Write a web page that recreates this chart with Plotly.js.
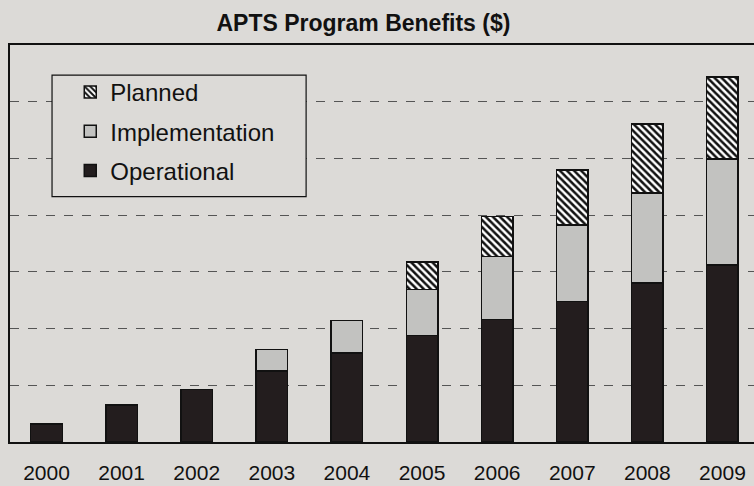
<!DOCTYPE html>
<html>
<head>
<meta charset="utf-8">
<script src="https://cdn.plot.ly/plotly-3.0.1.min.js"></script>
<style>html,body{margin:0;padding:0;background:#dcdad7;}#chart{width:754px;height:486px;}</style>
</head>
<body>
<div id="chart"></div>
<script>
const years = ["2000","2001","2002","2003","2004","2005","2006","2007","2008","2009"];
const operational    = [0.32, 0.65, 0.93, 1.25, 1.57, 1.88, 2.16, 2.48, 2.80, 3.12];
const implementation = [null, null, null, 0.38, 0.57, 0.81, 1.11, 1.35, 1.59, 1.87];
const planned        = [null, null, null, null, null, 0.48, 0.71, 0.97, 1.22, 1.45];

const bg = "#dcdad7";
const lineStyle = {color: "#111", width: 1.5};

const traces = [
  {type: "bar", name: "Operational", x: years, y: operational, legendgroup: "c", legendrank: 3,
   marker: {color: "#231d1e", line: lineStyle}},
  {type: "bar", name: "Implementation", x: years, y: implementation, legendgroup: "b", legendrank: 2,
   marker: {color: "#c2c2c0", line: lineStyle}},
  {type: "bar", name: "Planned", x: years, y: planned, legendgroup: "a", legendrank: 1,
   marker: {color: "#ffffff", line: lineStyle,
            pattern: {shape: "\\", fgcolor: "#111", bgcolor: "#ffffff", size: 5, solidity: 0.5}}}
];

const layout = {
  width: 754, height: 486,
  paper_bgcolor: bg, plot_bgcolor: bg,
  margin: {l: 10, r: 0, t: 45, b: 44},
  barmode: "stack",
  bargap: 0.58,
  font: {family: "Liberation Sans, Arial, sans-serif", color: "#111"},
  title: {text: "<b>APTS Program Benefits ($)</b>", font: {size: 23, color: "#111"},
          x: 0.482, xanchor: "center", y: 0.952, yanchor: "middle", yref: "container"},
  xaxis: {type: "category", range: [-0.486, 9.42], showline: true, linecolor: "#111", linewidth: 2,
          mirror: true, ticks: "", tickfont: {size: 21, color: "#111"}, ticklabelstandoff: 11,
          showgrid: false, fixedrange: true},
  yaxis: {range: [0, 7], dtick: 1, showticklabels: false, showline: true, linecolor: "#111", linewidth: 2,
          showgrid: true, gridcolor: "#555", gridwidth: 1, griddash: "dash", zeroline: false, ticks: ""},
  showlegend: true,
  legend: {x: 0.081, xanchor: "left", y: 0.937, yanchor: "top", bgcolor: "rgba(0,0,0,0)",
           borderwidth: 0, font: {size: 24, color: "#111"}, traceorder: "grouped",
           tracegroupgap: 5, itemwidth: 30},
  shapes: [
    {type: "rect", xref: "paper", yref: "paper", x0: 0.0565, x1: 0.398, y0: 0.618, y1: 0.924,
     line: {color: "#111", width: 1.2}, fillcolor: bg, layer: "above"}
  ]
};

Plotly.newPlot("chart", traces, layout, {displayModeBar: false, staticPlot: true});
</script>
</body>
</html>
